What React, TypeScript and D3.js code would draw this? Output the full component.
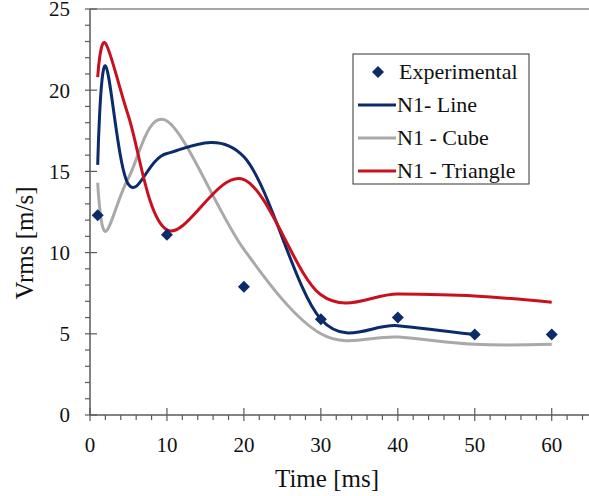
import React, { useEffect, useRef } from "react";
import * as d3 from "d3";

// time samples of the simulations [ms]
const simTimes = [1, 2, 5, 10, 20, 30, 40, 50, 60];
const lineValues = [15.4, 21.5, 14.2, 16.1, 15.9, 5.9, 5.5, 4.95];
const cubeValues = [14.3, 11.3, 14.6, 18.1, 10.2, 5.0, 4.8, 4.35, 4.35];
const triangleValues = [20.8, 22.9, 18.4, 11.4, 14.5, 7.4, 7.45, 7.33, 6.94];

const expTimes = [1, 10, 20, 30, 40, 50, 60];
const expValues = [12.3, 11.1, 7.9, 5.9, 6.0, 4.95, 4.95];

const xTicks = [0, 10, 20, 30, 40, 50, 60];
const yTicks = [0, 5, 10, 15, 20, 25];

const NAVY = "#0c2b6b";
const GRAY = "#a9a9a9";
const RED = "#c8101e";
const AXIS = "#5a5a5a";
const FONT = "'Liberation Serif', 'Times New Roman', serif";

const App = () => {
  const chartRef = useRef<SVGSVGElement>(null);

  useEffect(() => {
    if (!chartRef.current) return;
    const svg = d3.select(chartRef.current);
    svg.selectAll("*").remove();

    const x = d3.scaleLinear().domain([0, 65]).range([90, 590.2]);
    const y = d3.scaleLinear().domain([0, 25]).range([415, 9]);

    // frame: top border
    svg
      .append("line")
      .attr("x1", x(0))
      .attr("x2", 589)
      .attr("y1", y(25))
      .attr("y2", y(25))
      .attr("stroke", "#8a8a8a")
      .attr("stroke-width", 1.5);

    // y axis
    const yAxis = svg.append("g").attr("transform", `translate(${x(0)},0)`);
    yAxis
      .append("line")
      .attr("y1", y(0))
      .attr("y2", y(25))
      .attr("stroke", AXIS)
      .attr("stroke-width", 1.5);
    yAxis
      .selectAll(".minor")
      .data(d3.range(0, 26, 1).filter((d) => d % 5 !== 0))
      .join("line")
      .attr("x1", -5)
      .attr("x2", 0)
      .attr("y1", (d) => y(d))
      .attr("y2", (d) => y(d))
      .attr("stroke", AXIS)
      .attr("stroke-width", 1.2);
    yAxis
      .selectAll(".major")
      .data(yTicks)
      .join("line")
      .attr("x1", -5)
      .attr("x2", 7)
      .attr("y1", (d) => y(d))
      .attr("y2", (d) => y(d))
      .attr("stroke", AXIS)
      .attr("stroke-width", 1.2);
    yAxis
      .selectAll("text")
      .data(yTicks)
      .join("text")
      .attr("x", -20)
      .attr("y", (d) => y(d))
      .attr("dy", "0.35em")
      .attr("text-anchor", "end")
      .attr("font-family", FONT)
      .attr("font-size", 21)
      .attr("fill", "#111")
      .text((d) => d);

    // x axis
    const xAxis = svg.append("g").attr("transform", `translate(0,${y(0)})`);
    xAxis
      .append("line")
      .attr("x1", x(0))
      .attr("x2", 589)
      .attr("stroke", AXIS)
      .attr("stroke-width", 1.5);
    xAxis
      .selectAll(".minor")
      .data(d3.range(0, 66, 2).filter((d) => d % 10 !== 0))
      .join("line")
      .attr("x1", (d) => x(d))
      .attr("x2", (d) => x(d))
      .attr("y1", 0)
      .attr("y2", 5)
      .attr("stroke", AXIS)
      .attr("stroke-width", 1.2);
    xAxis
      .selectAll(".major")
      .data(xTicks)
      .join("line")
      .attr("x1", (d) => x(d))
      .attr("x2", (d) => x(d))
      .attr("y1", -7)
      .attr("y2", 6)
      .attr("stroke", AXIS)
      .attr("stroke-width", 1.2);
    xAxis
      .selectAll("text")
      .data(xTicks)
      .join("text")
      .attr("x", (d) => x(d))
      .attr("y", 37)
      .attr("text-anchor", "middle")
      .attr("font-family", FONT)
      .attr("font-size", 21)
      .attr("fill", "#111")
      .text((d) => d);

    // axis titles
    svg
      .append("text")
      .attr("x", 327)
      .attr("y", 487)
      .attr("text-anchor", "middle")
      .attr("font-family", FONT)
      .attr("font-size", 25)
      .attr("fill", "#111")
      .text("Time [ms]");
    svg
      .append("text")
      .attr("transform", "translate(33,243) rotate(-90)")
      .attr("text-anchor", "middle")
      .attr("font-family", FONT)
      .attr("font-size", 25)
      .attr("fill", "#111")
      .text("Vrms [m/s]");

    // simulation curves
    const line = d3
      .line<[number, number]>()
      .x((d) => x(d[0]))
      .y((d) => y(d[1]))
      .curve(d3.curveCardinal.tension(0));

    const series = [
      { values: cubeValues, color: GRAY },
      { values: lineValues, color: NAVY },
      { values: triangleValues, color: RED },
    ];
    series.forEach((s) => {
      svg
        .append("path")
        .datum(s.values.map((v, i) => [simTimes[i], v] as [number, number]))
        .attr("d", line)
        .attr("fill", "none")
        .attr("stroke", s.color)
        .attr("stroke-width", 3);
    });

    // experimental points
    const diamond = d3.symbol().type(d3.symbolSquare).size(72);
    svg
      .selectAll(".exp")
      .data(expTimes.map((t, i) => [t, expValues[i]]))
      .join("path")
      .attr("d", diamond)
      .attr("transform", (d) => `translate(${x(d[0])},${y(d[1])}) rotate(45)`)
      .attr("fill", NAVY);

    // legend
    const legend = svg.append("g");
    legend
      .append("rect")
      .attr("x", 353)
      .attr("y", 54)
      .attr("width", 176)
      .attr("height", 130)
      .attr("fill", "white")
      .attr("stroke", "#333")
      .attr("stroke-width", 1);
    const entries = [
      { label: "Experimental", color: NAVY, marker: true },
      { label: "N1- Line", color: NAVY, marker: false },
      { label: "N1 - Cube", color: GRAY, marker: false },
      { label: "N1 - Triangle", color: RED, marker: false },
    ];
    entries.forEach((e, i) => {
      const cy = 72 + i * 33;
      if (e.marker) {
        legend
          .append("path")
          .attr("d", diamond)
          .attr("transform", `translate(378,${cy}) rotate(45)`)
          .attr("fill", e.color);
      } else {
        legend
          .append("line")
          .attr("x1", 358)
          .attr("x2", 396)
          .attr("y1", cy)
          .attr("y2", cy)
          .attr("stroke", e.color)
          .attr("stroke-width", 3);
      }
      legend
        .append("text")
        .attr("x", e.marker ? 399 : 397)
        .attr("y", cy)
        .attr("dy", "0.33em")
        .attr("font-family", FONT)
        .attr("font-size", 22)
        .attr("fill", "#111")
        .text(e.label);
    });
  }, []);

  return (
    <svg
      ref={chartRef}
      width={589}
      height={496}
      style={{ position: "absolute", left: 0, top: 0, background: "white" }}
    ></svg>
  );
};

export default App;
